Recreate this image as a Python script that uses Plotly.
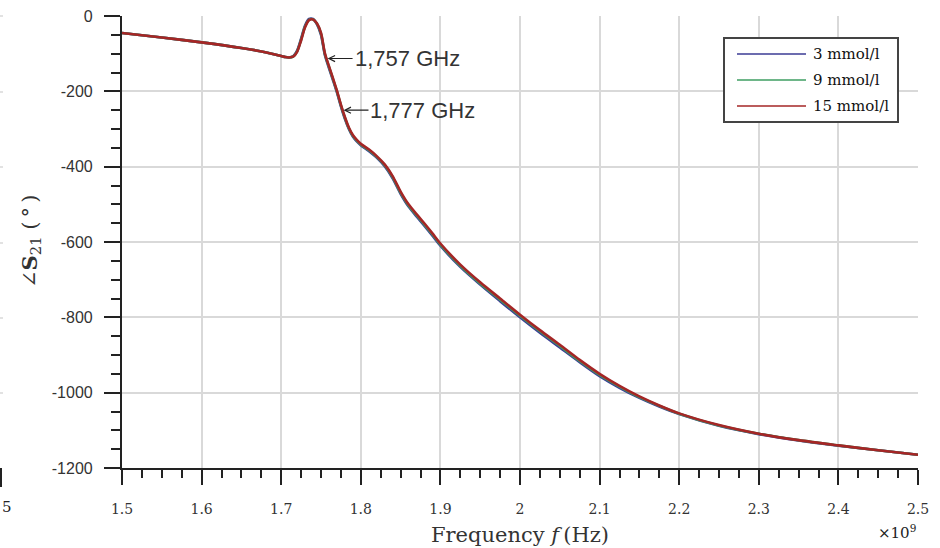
import plotly.graph_objects as go

# Frequency sweep (GHz on the axis, shown with a x10^9 multiplier)
freq_ghz = [1.50, 1.55, 1.60, 1.65, 1.68,
            1.700, 1.705, 1.710, 1.715, 1.720, 1.725, 1.730, 1.735, 1.740, 1.745,
            1.750, 1.755, 1.760, 1.765, 1.770, 1.775, 1.780, 1.785, 1.790, 1.795,
            1.80, 1.81, 1.82, 1.83, 1.84, 1.85, 1.86, 1.87, 1.88, 1.89,
            1.900, 1.925, 1.950, 1.975, 2.000, 2.025, 2.050, 2.075, 2.100, 2.125,
            2.150, 2.175, 2.200, 2.250, 2.300, 2.350, 2.400, 2.450, 2.500]

# Phase of S21 (degrees) for each concentration
phase_3mmol = [-45, -57, -70, -85, -96,
               -106, -109, -110, -107, -92, -60, -25, -8, -8, -22,
               -50, -105, -138, -170, -203, -240, -273, -300, -320, -333,
               -343, -358, -376, -399, -431, -472, -506, -532, -557, -583,
               -610, -666, -713, -757, -800, -841, -880, -919, -956, -987,
               -1014, -1037, -1057, -1088, -1110, -1127, -1141, -1153, -1165]
phase_9mmol = [-45, -57, -70, -85, -96,
               -106, -109, -110, -108, -94, -63, -28, -10, -9, -21,
               -47, -102, -135, -167, -200, -237, -270, -298, -318, -331,
               -341, -356, -374, -396, -428, -469, -503, -529, -554, -580,
               -607, -663, -710, -753, -796, -837, -876, -916, -953, -984,
               -1012, -1035, -1056, -1087, -1109, -1126, -1140, -1153, -1165]
phase_15mmol = [-45, -57, -70, -85, -96,
                -106, -109, -110, -108, -95, -65, -30, -11, -9, -20,
                -45, -100, -133, -165, -198, -235, -268, -296, -316, -329,
                -339, -354, -372, -394, -425, -466, -500, -526, -551, -577,
                -604, -660, -707, -750, -793, -834, -873, -913, -950, -982,
                -1010, -1034, -1055, -1086, -1109, -1126, -1140, -1153, -1165]

series_names = ["3 mmol/l", "9 mmol/l", "15 mmol/l"]
series_values = [phase_3mmol, phase_9mmol, phase_15mmol]
series_colors = ["#3b3b95", "#3e9e62", "#a52626"]

# Marked frequencies (GHz) and the phase at each of them
marker_freqs = [1.757, 1.777]
marker_labels = ["1,757 GHz", "1,777 GHz"]
marker_phase = [-113, -250]

x_ticks = [1.5, 1.6, 1.7, 1.8, 1.9, 2.0, 2.1, 2.2, 2.3, 2.4, 2.5]
x_ticktext = ["1.5", "1.6", "1.7", "1.8", "1.9", "2", "2.1", "2.2", "2.3", "2.4", "2.5"]
y_ticks = [0, -200, -400, -600, -800, -1000, -1200]
y_ticktext = ["0", "-200", "-400", "-600", "-800", "-1000", "-1200"]

x_title = "Frequency <i>f</i>\u2009(Hz)"
y_title = "∠<b>S</b><sub>21</sub> (\u2009°\u2009)"

W, H = 940, 548
ML, MR, MT, MB = 122, 22, 16, 80
PW, PH = W - ML - MR, H - MT - MB


def px_x(px):
    return (px - ML) / PW


def px_y(py):
    return (H - MB - py) / PH


fig = go.Figure()
for name, vals, col in zip(series_names, series_values, series_colors):
    fig.add_trace(go.Scatter(
        x=freq_ghz, y=vals, name=name, mode="lines",
        line=dict(color=col, width=2.6, shape="spline", smoothing=0.8),
        showlegend=False,
    ))

serif = "DejaVu Serif"
sans = "Liberation Sans"

annotations = []
for f, lab, ph in zip(marker_freqs, marker_labels, marker_phase):
    annotations.append(dict(
        x=f, y=ph, xref="x", yref="y", text=lab, showarrow=True,
        ax=26, ay=0, xanchor="left", arrowhead=5, arrowsize=1.1,
        arrowwidth=1.1, arrowcolor="#222", standoff=1,
        font=dict(family=sans, size=22, color="#333"),
    ))

# Axis titles
annotations.append(dict(x=px_x(520), y=px_y(535), xref="paper", yref="paper",
                        text=x_title, showarrow=False, xanchor="center",
                        yanchor="middle",
                        font=dict(family=serif, size=21, color="#333")))
annotations.append(dict(x=px_x(30), y=px_y(242), xref="paper", yref="paper",
                        text=y_title, showarrow=False, textangle=-90,
                        xanchor="center", yanchor="middle",
                        font=dict(family=serif, size=21, color="#333")))

# Legend box drawn in paper space
shapes = [dict(type="rect", xref="paper", yref="paper",
               x0=px_x(724), x1=px_x(898), y0=px_y(122), y1=px_y(38),
               line=dict(color="#444", width=2), fillcolor="white", layer="above")]
for i, (name, col) in enumerate(zip(series_names, series_colors)):
    yy = 54 + 26 * i
    shapes.append(dict(type="line", xref="paper", yref="paper",
                       x0=px_x(737), x1=px_x(806), y0=px_y(yy), y1=px_y(yy),
                       line=dict(color=col, width=1.3), layer="above"))
    annotations.append(dict(x=px_x(811), y=px_y(yy), xref="paper", yref="paper",
                            text=name, showarrow=False, xanchor="left",
                            yanchor="middle",
                            font=dict(family=serif, size=15, color="#111")))

annotations.append(dict(x=px_x(918), y=px_y(532), xref="paper", yref="paper",
                        text="×10<sup>9</sup>", showarrow=False, xanchor="right",
                        yanchor="middle",
                        font=dict(family=serif, size=15, color="#222")))

# Edge of the neighbouring panel on the left
shapes.append(dict(type="line", xref="paper", yref="paper",
                   x0=px_x(1), x1=px_x(1), y0=px_y(487), y1=px_y(468),
                   line=dict(color="#222", width=2)))
for gy in [16, 92, 167, 243, 318, 393]:
    shapes.append(dict(type="line", xref="paper", yref="paper",
                       x0=px_x(0), x1=px_x(3), y0=px_y(gy), y1=px_y(gy),
                       line=dict(color="#d8d8d8", width=1.5)))
annotations.append(dict(x=px_x(0), y=px_y(507), xref="paper", yref="paper",
                        text="5", showarrow=False, xanchor="left",
                        yanchor="middle",
                        font=dict(family=serif, size=15, color="#222")))

fig.update_layout(
    width=W, height=H,
    margin=dict(l=ML, r=MR, t=MT, b=MB, pad=0, autoexpand=False),
    paper_bgcolor="white", plot_bgcolor="white",
    showlegend=False,
    annotations=annotations,
    shapes=shapes,
)

fig.update_xaxes(
    range=[1.5, 2.5], tickvals=x_ticks, ticktext=x_ticktext,
    automargin=False,
    showgrid=True, gridcolor="#d9d9d9", gridwidth=1.6, zeroline=False,
    showline=True, linecolor="#222", linewidth=2.2,
    ticks="outside", ticklen=15, tickwidth=2.2, tickcolor="#222",
    ticklabelstandoff=12,
    tickfont=dict(family=serif, size=14, color="#333"),
    minor=dict(dtick=0.025, ticks="outside", ticklen=8, tickwidth=2,
               tickcolor="#222", showgrid=False),
)

fig.update_yaxes(
    range=[-1200, 0], tickvals=y_ticks, ticktext=y_ticktext,
    automargin=False,
    showgrid=True, gridcolor="#d9d9d9", gridwidth=1.6, zeroline=False,
    showline=True, linecolor="#222", linewidth=2.2,
    ticks="outside", ticklen=16, tickwidth=2.2, tickcolor="#222",
    ticklabelstandoff=8,
    tickfont=dict(family=sans, size=16, color="#333"),
    minor=dict(dtick=50, ticks="outside", ticklen=9, tickwidth=2,
               tickcolor="#222", showgrid=False),
)

fig.write_html("out.html")
